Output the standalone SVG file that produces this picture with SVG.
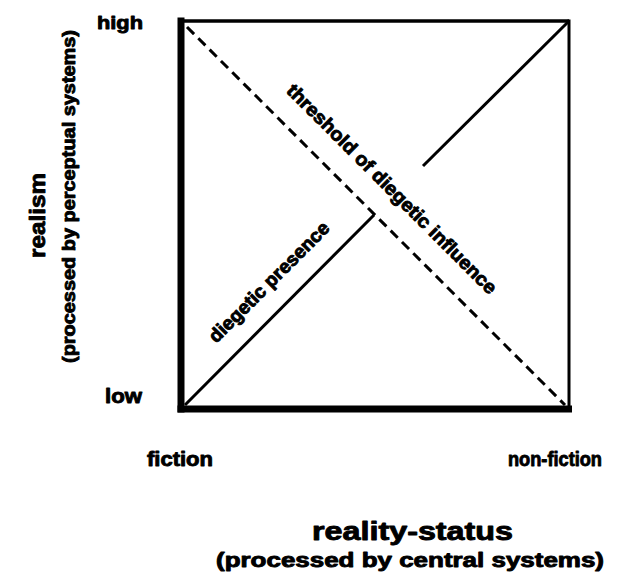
<svg xmlns="http://www.w3.org/2000/svg" width="625" height="574" viewBox="0 0 625 574">
<style>
text{font-family:"Liberation Sans",Arial,sans-serif;font-weight:bold;fill:#000;stroke:#000;stroke-width:0.9;stroke-linejoin:round}
.ln{stroke:#000;fill:none;stroke-linecap:butt}
</style>
<rect width="625" height="574" fill="#fff"/>
<g id="connectors">
<line class="ln" x1="181" y1="21" x2="569" y2="21" stroke-width="3.5"/>
<line class="ln" x1="569" y1="19.5" x2="569" y2="409" stroke-width="3"/>
<line class="ln" x1="181" y1="17.5" x2="181" y2="412.5" stroke-width="7"/>
<line class="ln" x1="177.5" y1="409" x2="572" y2="409" stroke-width="7"/>
<line class="ln" x1="187" y1="27" x2="565" y2="405" stroke-width="3" stroke-dasharray="10 6"/>
<line class="ln" x1="185" y1="405" x2="374" y2="215" stroke-width="3"/>
<line class="ln" x1="423" y1="166" x2="568" y2="22" stroke-width="3"/>
</g>
<g id="axis-y">
<text x="143" y="29" font-size="19" text-anchor="end" textLength="46" lengthAdjust="spacingAndGlyphs">high</text>
<text x="142" y="403" font-size="20" text-anchor="end" textLength="37" lengthAdjust="spacingAndGlyphs">low</text>
<text transform="translate(45,215.5) rotate(-90)" font-size="22" text-anchor="middle" textLength="85" lengthAdjust="spacingAndGlyphs">realism</text>
<text transform="translate(74.5,196.5) rotate(-90)" font-size="18" text-anchor="middle" textLength="333" lengthAdjust="spacingAndGlyphs">(processed by perceptual systems)</text>
</g>
<g id="axis-x">
<text x="147" y="466" font-size="20" textLength="66" lengthAdjust="spacingAndGlyphs">fiction</text>
<text x="508" y="466" font-size="20" textLength="94" lengthAdjust="spacingAndGlyphs">non-fiction</text>
<text x="412.5" y="540" font-size="26" text-anchor="middle" textLength="201" lengthAdjust="spacingAndGlyphs">reality-status</text>
<text x="410" y="567" font-size="20" text-anchor="middle" textLength="388" lengthAdjust="spacingAndGlyphs">(processed by central systems)</text>
</g>
<g id="label-threshold">
<text transform="translate(392,189) rotate(45)" y="6.5" font-size="19" text-anchor="middle" textLength="288" lengthAdjust="spacingAndGlyphs">threshold of diegetic influence</text>
</g>
<g id="label-presence">
<text transform="translate(269,282) rotate(-45)" y="6.5" font-size="19" text-anchor="middle" textLength="162" lengthAdjust="spacingAndGlyphs">diegetic presence</text>
</g>
</svg>
